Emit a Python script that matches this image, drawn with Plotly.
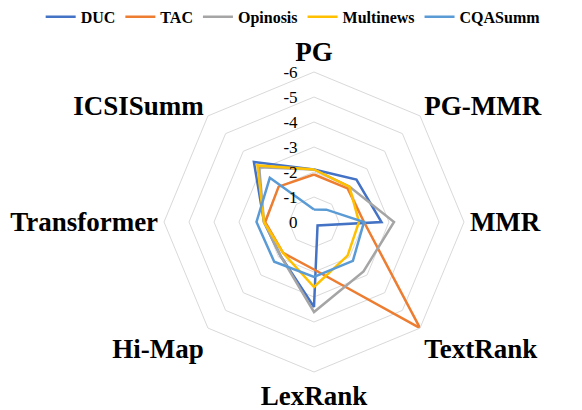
import plotly.graph_objects as go

categories = ["PG", "PG-MMR", "MMR", "TextRank", "LexRank", "Hi-Map", "Transformer", "ICSISumm"]
duc = [-2.1, -2.4, -2.7, -0.2, -3.4, -1.9, -2.0, -3.4]
tac = [-1.9, -1.9, -2.0, -6.0, -1.9, -1.75, -1.95, -2.0]
opinosis = [-2.1, -2.0, -3.2, -2.8, -3.6, -1.9, -2.0, -3.1]
multinews = [-2.1, -2.0, -1.8, -1.9, -2.6, -1.75, -2.0, -3.2]
cqasumm = [-0.5, -0.7, -2.0, -2.2, -2.2, -2.25, -2.3, -2.5]
radial_ticks = [0, -1, -2, -3, -4, -5, -6]
radial_ticktext = [str(v) for v in radial_ticks]

series = [
    ("DUC", duc, "#4472C4"),
    ("TAC", tac, "#ED7D31"),
    ("Opinosis", opinosis, "#A5A5A5"),
    ("Multinews", multinews, "#FFC000"),
    ("CQASumm", cqasumm, "#5B9BD5"),
]

FONT = "Liberation Serif"
fig = go.Figure()
for name, vals, color in series:
    fig.add_trace(go.Scatterpolar(
        r=vals + [vals[0]],
        theta=categories + [categories[0]],
        mode="lines",
        name=name,
        line=dict(color=color, width=2.5),
    ))

fig.update_layout(
    width=582, height=410,
    margin=dict(l=0, r=0, t=0, b=0, autoexpand=False),
    paper_bgcolor="white",
    plot_bgcolor="white",
    font=dict(family=FONT, color="black"),
    legend=dict(
        orientation="h", x=0.49, xanchor="center", y=1.02, yanchor="top",
        font=dict(family=FONT, size=16, color="black", weight="bold"),
        itemwidth=30, tracegroupgap=0,
    ),
    polar=dict(
        domain=dict(x=[156 / 582, 456 / 582], y=[1 - 364 / 410, 1 - 64 / 410]),
        bgcolor="white",
        gridshape="linear",
        angularaxis=dict(
            direction="clockwise", rotation=90,
            showgrid=False, showline=True, linecolor="#D9D9D9", linewidth=1,
            ticks="",
            tickfont=dict(family=FONT, size=27, color="black", weight="bold"),
        ),
        radialaxis=dict(
            range=[0, -6],
            tickvals=radial_ticks, ticktext=radial_ticktext,
            angle=90, side="counterclockwise", tickangle=90,
            showline=False, ticks="outside", ticklen=10, tickcolor="rgba(0,0,0,0)",
            gridcolor="#D9D9D9", gridwidth=1,
            tickfont=dict(family=FONT, size=17, color="black"),
        ),
    ),
)

fig.write_html("out.html")
